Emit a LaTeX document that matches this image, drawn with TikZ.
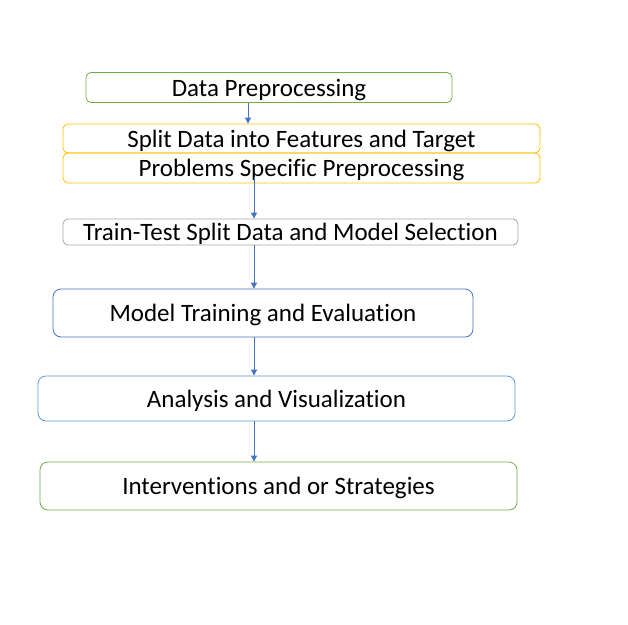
\documentclass[tikz,border=0pt]{standalone}
\usepackage{fontspec}
\setmainfont{Carlito}[Ligatures={NoCommon}]
\usetikzlibrary{arrows.meta}

\definecolor{stepgreen}{RGB}{112,173,71}
\definecolor{steporange}{RGB}{255,192,0}
\definecolor{stepgray}{RGB}{165,165,165}
\definecolor{stepblue}{RGB}{68,114,196}
\definecolor{steplight}{RGB}{91,155,213}

\tikzset{
  stage/.style={draw, rounded corners=5pt, line width=0.8pt, inner sep=0pt,
    text depth=0pt, font=\fontsize{25}{30}\selectfont, text=black},
  flow/.style={-{Triangle[length=6pt,width=6pt]}, draw=stepblue, fill=stepblue, line width=0.8pt}
}

\begin{document}
\begin{tikzpicture}[x=1pt,y=-1pt]

  \useasboundingbox (0,0) rectangle (628,624);

  \node[stage, draw=stepgreen, minimum width=366pt, minimum height=30pt] (prep) at (269,87.5) {Data Preprocessing};
  \node[stage, draw=steporange, minimum width=477pt, minimum height=29pt] (split) at (301.5,138.5) {Split Data into Features and Target};
  \node[stage, draw=steporange, minimum width=477pt, minimum height=30pt] (specific) at (301.5,168) {Problems Specific Preprocessing};
  \node[stage, draw=stepgray, minimum width=455pt, minimum height=26pt] (select) at (290.5,232) {Train-Test Split Data and Model Selection};
  \node[stage, draw=stepblue, rounded corners=8pt, minimum width=420pt, minimum height=48pt] (train) at (263,313) {Model Training and Evaluation};
  \node[stage, draw=steplight, rounded corners=8pt, minimum width=477pt, minimum height=45pt] (analysis) at (276.5,398.5) {Analysis and Visualization};
  \node[stage, draw=stepgreen, rounded corners=8pt, minimum width=477pt, minimum height=48pt] (strategy) at (278.5,486) {Interventions and or Strategies};

  \path[flow] (prep.south -| 248,0) -- (split.north -| 248,0);
  \path[flow] (specific.south -| 254,0) ++(0,-6) -- (select.north -| 254,0);
  \path[flow] (select.south -| 254,0) -- (train.north -| 254,0);
  \path[flow] (train.south -| 254,0) -- (analysis.north -| 254,0);
  \path[flow] (analysis.south -| 254,0) -- (strategy.north -| 254,0);

\end{tikzpicture}
\end{document}
